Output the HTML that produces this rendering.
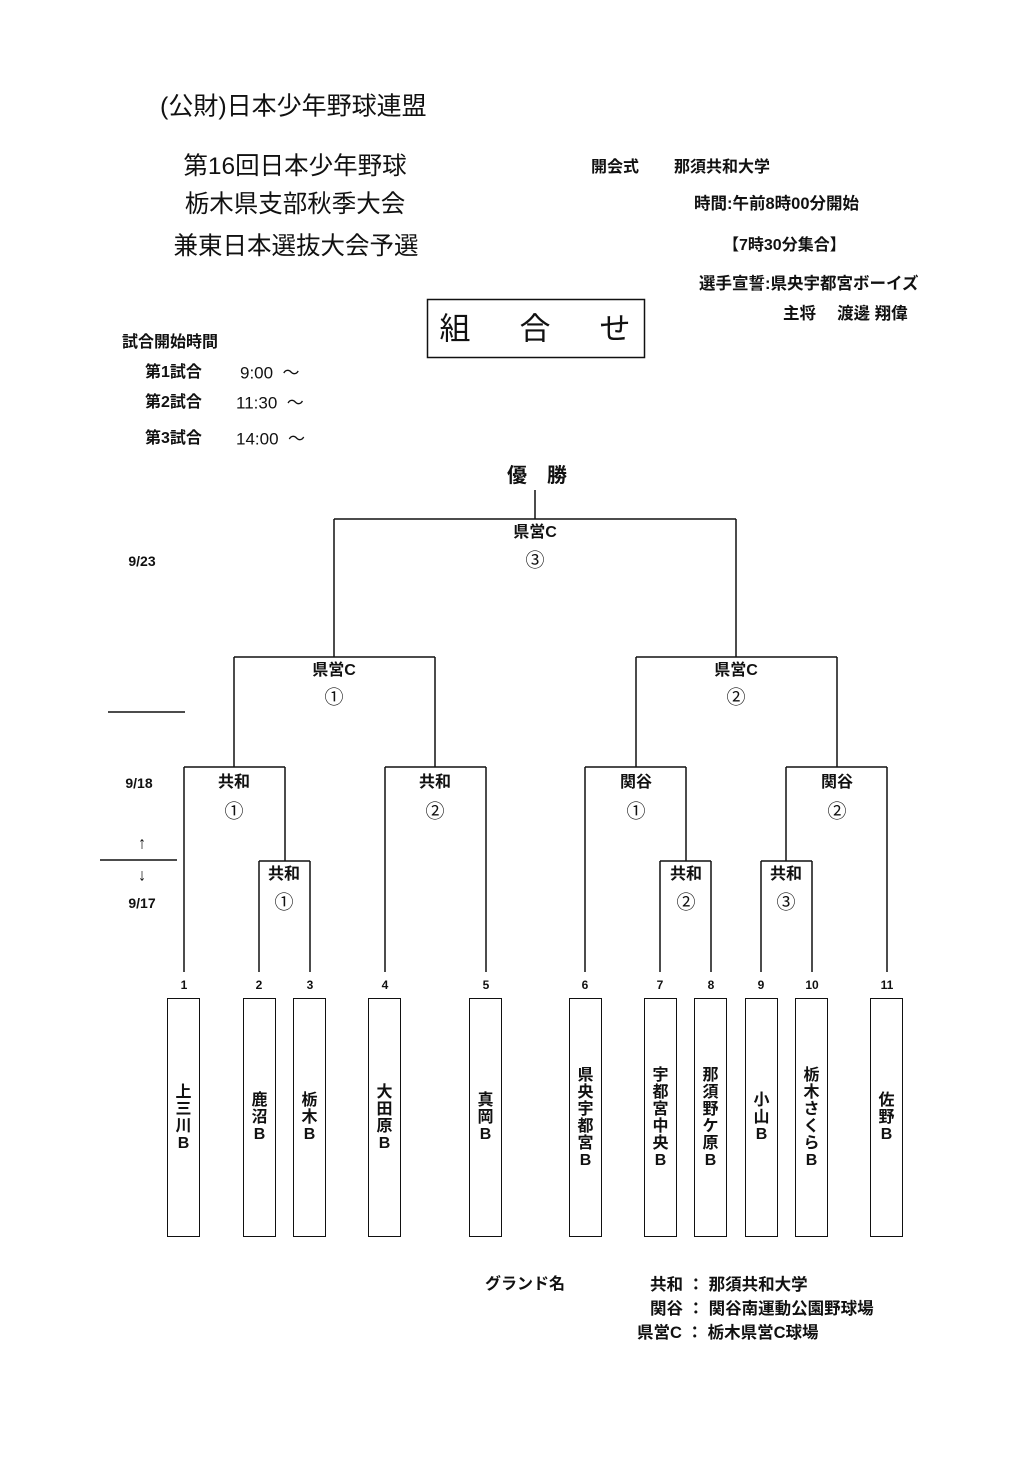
<!DOCTYPE html>
<html><head><meta charset="utf-8">
<style>
body{margin:0;background:#fff;}
#p{position:relative;width:1025px;height:1458px;overflow:hidden;font-family:"Liberation Sans","Noto Sans CJK JP",sans-serif;color:#111;}
.t{position:absolute;white-space:nowrap;transform:translate(-50%,-50%);line-height:1;}
.l{position:absolute;white-space:nowrap;line-height:1;transform:translateY(-50%);}
.b{font-weight:bold;}
.box{position:absolute;top:998px;width:33px;height:239px;border:1.5px solid #111;box-sizing:border-box;display:flex;flex-direction:column;justify-content:center;align-items:center;font-size:16px;font-weight:bold;line-height:17px;}
svg{position:absolute;left:0;top:0;}
</style></head><body><div id="p">
<svg width="1025" height="1458" stroke="#111" stroke-width="1.5" fill="none">
<path d="M535 490V519M334 519H736M334 519V657M736 519V657"/>
<path d="M234 657H435M234 657V767M435 657V767"/>
<path d="M636 657H837M636 657V767M837 657V767"/>
<path d="M184 767H285M184 767V972M285 767V861M259 861H310M259 861V972M310 861V972"/>
<path d="M385 767H486M385 767V972M486 767V972"/>
<path d="M585 767H686M585 767V972M686 767V861M660 861H711M660 861V972M711 861V972"/>
<path d="M786 767H887M786 767V861M887 767V972M761 861H812M761 861V972M812 861V972"/>
<path d="M108 712H185M100 860H177"/>
<rect x="427.5" y="299.5" width="217" height="58"/>
</svg>
<div class="l" style="left:160px;top:107px;font-size:25px;">(公財)日本少年野球連盟</div>
<div class="t" style="left:295px;top:167px;font-size:24.5px;">第16回日本少年野球</div>
<div class="t" style="left:295px;top:205px;font-size:24.5px;">栃木県支部秋季大会</div>
<div class="t" style="left:296px;top:247px;font-size:24.5px;">兼東日本選抜大会予選</div>
<div class="l b" style="left:591px;top:168px;font-size:16px;">開会式</div>
<div class="l b" style="left:674px;top:168px;font-size:16px;">那須共和大学</div>
<div class="l b" style="left:694px;top:204px;font-size:16.5px;">時間:午前8時00分開始</div>
<div class="l b" style="left:723px;top:246px;font-size:16px;">【7時30分集合】</div>
<div class="l b" style="left:699px;top:284px;font-size:16.5px;">選手宣誓:県央宇都宮ボーイズ</div>
<div class="l b" style="left:783px;top:314px;font-size:16.5px;">主将　 渡邊  翔偉</div>
<div class="t" style="left:455px;top:329px;font-size:31px;">組</div>
<div class="t" style="left:535px;top:329px;font-size:31px;">合</div>
<div class="t" style="left:615px;top:329px;font-size:31px;">せ</div>
<div class="l b" style="left:122px;top:343px;font-size:16px;">試合開始時間</div>
<div class="l b" style="left:145px;top:373px;font-size:16px;">第1試合</div>
<div class="l" style="left:240px;top:373px;font-size:17px;">9:00&nbsp; ～</div>
<div class="l b" style="left:145px;top:403px;font-size:16px;">第2試合</div>
<div class="l" style="left:236px;top:403px;font-size:17px;">11:30&nbsp; ～</div>
<div class="l b" style="left:145px;top:439px;font-size:16px;">第3試合</div>
<div class="l" style="left:236px;top:439px;font-size:17px;">14:00&nbsp; ～</div>
<div class="t b" style="left:537px;top:476px;font-size:20px;">優　勝</div>
<div class="t b" style="left:142px;top:561px;font-size:14px;">9/23</div>
<div class="t b" style="left:139px;top:783px;font-size:14px;">9/18</div>
<div class="t" style="left:142px;top:843px;font-size:17px;">↑</div>
<div class="t" style="left:142px;top:875px;font-size:17px;">↓</div>
<div class="t b" style="left:142px;top:903px;font-size:14px;">9/17</div>
<div class="t b" style="left:535px;top:533px;font-size:16px;">県営C</div><div class="t" style="left:535px;top:561px;font-size:19px;">③</div>
<div class="t b" style="left:334px;top:671px;font-size:16px;">県営C</div><div class="t" style="left:334px;top:698px;font-size:19px;">①</div>
<div class="t b" style="left:736px;top:671px;font-size:16px;">県営C</div><div class="t" style="left:736px;top:698px;font-size:19px;">②</div>
<div class="t b" style="left:234px;top:783px;font-size:16px;">共和</div><div class="t" style="left:234px;top:812px;font-size:19px;">①</div>
<div class="t b" style="left:435px;top:783px;font-size:16px;">共和</div><div class="t" style="left:435px;top:812px;font-size:19px;">②</div>
<div class="t b" style="left:636px;top:783px;font-size:16px;">関谷</div><div class="t" style="left:636px;top:812px;font-size:19px;">①</div>
<div class="t b" style="left:837px;top:783px;font-size:16px;">関谷</div><div class="t" style="left:837px;top:812px;font-size:19px;">②</div>
<div class="t b" style="left:284px;top:875px;font-size:16px;">共和</div><div class="t" style="left:284px;top:903px;font-size:19px;">①</div>
<div class="t b" style="left:686px;top:875px;font-size:16px;">共和</div><div class="t" style="left:686px;top:903px;font-size:19px;">②</div>
<div class="t b" style="left:786px;top:875px;font-size:16px;">共和</div><div class="t" style="left:786px;top:903px;font-size:19px;">③</div>
<div class="t b" style="left:184px;top:985px;font-size:12px;">1</div>
<div class="t b" style="left:259px;top:985px;font-size:12px;">2</div>
<div class="t b" style="left:310px;top:985px;font-size:12px;">3</div>
<div class="t b" style="left:385px;top:985px;font-size:12px;">4</div>
<div class="t b" style="left:486px;top:985px;font-size:12px;">5</div>
<div class="t b" style="left:585px;top:985px;font-size:12px;">6</div>
<div class="t b" style="left:660px;top:985px;font-size:12px;">7</div>
<div class="t b" style="left:711px;top:985px;font-size:12px;">8</div>
<div class="t b" style="left:761px;top:985px;font-size:12px;">9</div>
<div class="t b" style="left:812px;top:985px;font-size:12px;">10</div>
<div class="t b" style="left:887px;top:985px;font-size:12px;">11</div>
<div class="box" style="left:167px;"><span>上</span><span>三</span><span>川</span><span>B</span></div>
<div class="box" style="left:243px;"><span>鹿</span><span>沼</span><span>B</span></div>
<div class="box" style="left:293px;"><span>栃</span><span>木</span><span>B</span></div>
<div class="box" style="left:368px;"><span>大</span><span>田</span><span>原</span><span>B</span></div>
<div class="box" style="left:469px;"><span>真</span><span>岡</span><span>B</span></div>
<div class="box" style="left:569px;"><span>県</span><span>央</span><span>宇</span><span>都</span><span>宮</span><span>B</span></div>
<div class="box" style="left:644px;"><span>宇</span><span>都</span><span>宮</span><span>中</span><span>央</span><span>B</span></div>
<div class="box" style="left:694px;"><span>那</span><span>須</span><span>野</span><span>ケ</span><span>原</span><span>B</span></div>
<div class="box" style="left:745px;"><span>小</span><span>山</span><span>B</span></div>
<div class="box" style="left:795px;"><span>栃</span><span>木</span><span>さ</span><span>く</span><span>ら</span><span>B</span></div>
<div class="box" style="left:870px;"><span>佐</span><span>野</span><span>B</span></div>
<div class="l b" style="left:485px;top:1285px;font-size:16px;">グランド名</div>
<div class="l b" style="left:650px;top:1285px;font-size:16.5px;">共和 ：&nbsp;那須共和大学</div>
<div class="l b" style="left:650px;top:1309px;font-size:16.5px;">関谷 ：&nbsp;関谷南運動公園野球場</div>
<div class="l b" style="left:637px;top:1333px;font-size:16.5px;">県営C ：&nbsp;栃木県営C球場</div>
</div></body></html>
